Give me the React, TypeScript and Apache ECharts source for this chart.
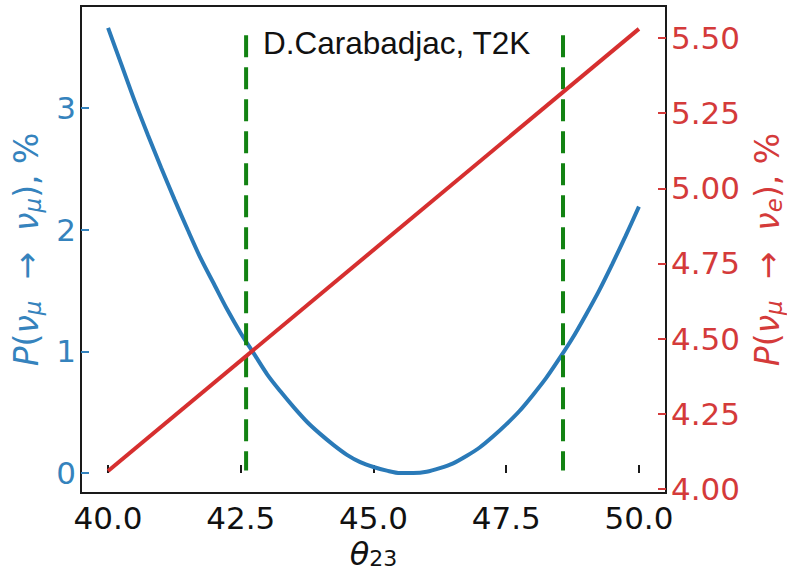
import React, { useEffect, useRef } from "react";
import * as echarts from "echarts";

// theta_23 grid (degrees) for the survival probability curve
const thetaBlue = [
  40, 40.25, 40.5, 40.75, 41, 41.25, 41.5, 41.75, 42, 42.25, 42.5, 42.75, 43, 43.25, 43.5, 43.75, 44, 44.25, 44.5, 44.75,
  45, 45.25, 45.5, 45.75, 46, 46.25, 46.5, 46.75, 47, 47.25, 47.5, 47.75, 48, 48.25, 48.5, 48.75, 49, 49.25, 49.5, 49.75, 50,
];
// P(nu_mu -> nu_mu), %
const pMuMu = [
  3.66, 3.36, 3.06, 2.78, 2.51, 2.25, 2.0, 1.76, 1.55, 1.34, 1.15, 0.98, 0.81, 0.67, 0.54, 0.42, 0.32, 0.23, 0.15, 0.09,
  0.05, 0.02, 0.0, 0.0, 0.01, 0.04, 0.08, 0.14, 0.21, 0.3, 0.4, 0.51, 0.64, 0.78, 0.94, 1.11, 1.3, 1.5, 1.72, 1.95, 2.19,
];
// P(nu_mu -> nu_e), % (straight line)
const thetaRed = [40, 50];
const pMuE = [4.06, 5.53];
// vertical dashed markers
const markerTheta = [42.6, 48.57];
const markerSpan = [3.6, 0.02];
// tick labels
const xTicks = [40, 42.5, 45, 47.5, 50];
const leftTicks = [0, 1, 2, 3];
const rightTicks = [4.0, 4.25, 4.5, 4.75, 5.0, 5.25, 5.5];
const annotation = "D.Carabadjac, T2K";

const BLUE = "#2a7ab8";
const BLUE_TXT = "#3583bd";
const RED = "#d62f2f";
const RED_TXT = "#d43a3a";
const GREEN = "#128212";
const FONT = "DejaVu Sans";

export default function App() {
  const ref = useRef<HTMLDivElement>(null);
  useEffect(() => {
    document.body.style.margin = "0";
    const chart = echarts.init(ref.current!, null, { renderer: "svg" });
    const richFor = (color: string) => ({
      i: { fontFamily: FONT, fontStyle: "italic", fontSize: 33, color },
      n: { fontFamily: FONT, fontSize: 33, color },
      s: { fontFamily: FONT, fontStyle: "italic", fontSize: 23, color, padding: [13, 0, 0, 0] },
    });
    const option: any = {
      animation: false,
      backgroundColor: "#ffffff",
      grid: {
        left: 81,
        right: 121,
        top: 6,
        bottom: 78,
        outerBoundsMode: "none",
        containLabel: false,
        show: true,
        borderColor: "#1a1a1a",
        borderWidth: 2,
        backgroundColor: "transparent",
      },
      xAxis: {
        type: "value",
        min: 39.49,
        max: 50.51,
        splitLine: { show: false },
        axisLine: { show: false },
        axisTick: { show: true, inside: true, length: 8, customValues: xTicks, lineStyle: { color: "#1a1a1a", width: 2 } },
        axisLabel: {
          customValues: xTicks,
          margin: 9,
          color: "#111",
          fontFamily: FONT,
          fontSize: 31,
          formatter: (v: number) => v.toFixed(1),
        },
        name: "{i|θ}{s|23}",
        nameLocation: "middle",
        nameGap: 31,
        nameTextStyle: {
          rich: {
            i: { fontFamily: FONT, fontStyle: "italic", fontSize: 32, color: "#111" },
            s: { fontFamily: FONT, fontSize: 22, color: "#111", padding: [9, 0, 0, 0] },
          },
        },
      },
      yAxis: [
        {
          type: "value",
          position: "left",
          min: -0.164,
          max: 3.84,
          splitLine: { show: false },
          axisLine: { show: false },
          axisTick: { show: true, inside: true, length: 8, customValues: leftTicks, lineStyle: { color: BLUE_TXT, width: 2 } },
          axisLabel: { customValues: leftTicks, margin: 5, color: BLUE_TXT, fontFamily: FONT, fontSize: 31, formatter: (v: number) => String(v) },
          name: "{i|P}{n|(}{i|ν}{s|μ}{n|  →  }{i|ν}{s|μ}{n|), %}",
          nameLocation: "middle",
          nameRotate: 90,
          nameGap: 37,
          nameTextStyle: { rich: richFor(BLUE_TXT) },
        },
        {
          type: "value",
          position: "right",
          min: 3.987,
          max: 5.606,
          splitLine: { show: false },
          axisLine: { show: false },
          axisTick: { show: true, inside: true, length: 8, customValues: rightTicks, lineStyle: { color: RED_TXT, width: 2 } },
          axisLabel: { customValues: rightTicks, margin: 5, color: RED_TXT, fontFamily: FONT, fontSize: 31, formatter: (v: number) => v.toFixed(2) },
          name: "{i|P}{n|(}{i|ν}{s|μ}{n|  →  }{i|ν}{s|e}{n|), %}",
          nameLocation: "middle",
          nameRotate: 90,
          nameGap: 77,
          nameTextStyle: { rich: richFor(RED_TXT) },
        },
      ],
      graphic: [
        {
          type: "text",
          left: 263,
          top: 27,
          style: { text: annotation, fontFamily: "Liberation Sans", fontSize: 31.5, fill: "#111" },
        },
      ],
      series: [
        {
          type: "line",
          yAxisIndex: 0,
          data: thetaBlue.map((t, i) => [t, pMuMu[i]]),
          smooth: 0.3,
          showSymbol: false,
          lineStyle: { color: BLUE, width: 4 },
          z: 2,
        },
        ...markerTheta.map((t) => ({
          type: "line",
          yAxisIndex: 0,
          data: markerSpan.map((v) => [t, v]),
          showSymbol: false,
          lineStyle: { color: GREEN, width: 4, type: [22, 10] },
          z: 3,
        })),
        {
          type: "line",
          yAxisIndex: 1,
          data: thetaRed.map((t, i) => [t, pMuE[i]]),
          showSymbol: false,
          lineStyle: { color: RED, width: 4 },
          z: 4,
        },
      ],
    };
    chart.setOption(option);
    return () => chart.dispose();
  }, []);
  return <div ref={ref} style={{ position: "fixed", left: 0, top: 0, width: 787, height: 571 }} />;
}
